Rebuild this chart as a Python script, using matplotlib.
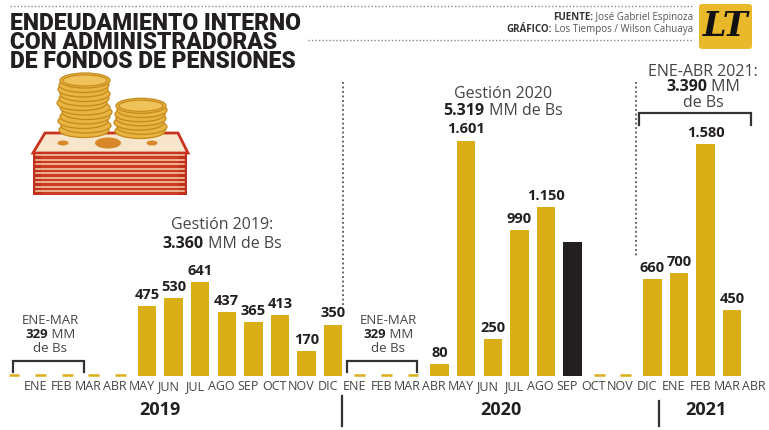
import matplotlib
matplotlib.use("Agg")
import matplotlib.pyplot as plt
import numpy as np
from matplotlib.patches import Ellipse, Polygon, Rectangle, FancyBboxPatch

W, H = 769, 430
GOLD = "#D9AE17"
DARK = "#231F20"
GREY = "#444444"

# one slot per bar as drawn in the graphic (2019 has an extra empty slot)
values_2019 = [0, 0, 0, 0, 0, 475, 530, 641, 437, 365, 413, 170, 350]
values_2020 = [0, 0, 0, 80, 1601, 250, 990, 1150, 910, 0, 0]
values_2021 = [660, 700, 1580, 450]
value_labels_2019 = ["", "", "", "", "", "475", "530", "641", "437", "365", "413", "170", "350"]
value_labels_2020 = ["", "", "", "80", "1.601", "250", "990", "1.150", "", "", ""]
value_labels_2021 = ["660", "700", "1.580", "450"]
months = ["ENE", "FEB", "MAR", "ABR", "MAY", "JUN", "JUL", "AGO", "SEP", "OCT", "NOV", "DIC"]
month_labels = months + months + months[:4]
years = ["2019", "2020", "2021"]
highlight_slot = 21  # SEP 2020, drawn in black

values = values_2019 + values_2020 + values_2021
value_labels = value_labels_2019 + value_labels_2020 + value_labels_2021

plt.rcParams["font.family"] = ["Open Sans", "DejaVu Sans"]

fig = plt.figure(figsize=(W / 100, H / 100), dpi=100)
fig.patch.set_facecolor("white")

# pixel overlay for decoration
axp = fig.add_axes([0, 0, 1, 1], zorder=0)
axp.set_xlim(0, W)
axp.set_ylim(H, 0)
axp.axis("off")

# chart axes, baseline at y=376 px
BASE = 376
SCALE = 0.147  # px per MM Bs
SLOT0, SLOTW = 14, 26.6
ax = fig.add_axes([0, (H - BASE) / H, 1, BASE / H], zorder=1)
ax.set_xlim(-SLOT0 / SLOTW, (W - SLOT0) / SLOTW)
ax.set_ylim(0, BASE / SCALE)
ax.patch.set_alpha(0)
for s in ax.spines.values():
    s.set_visible(False)
ax.set_yticks([])


def v(py):
    return (BASE - py) / SCALE


x = np.arange(len(values))
colors = [DARK if i == highlight_slot else GOLD for i in x]
ax.bar(x, values, width=0.69, color=colors, zorder=2)
zeros = x[np.array(values) == 0]
ax.hlines([6] * len(zeros), zeros - 0.2, zeros + 0.2, color=GOLD, lw=1.8, clip_on=False)
for xi, val, lab in zip(x, values, value_labels):
    if lab:
        ax.annotate(lab, (xi, val), xytext=(0, 3), textcoords="offset points",
                    ha="center", va="bottom", fontsize=10.5, fontweight="bold", color=DARK)

ax.set_xticks(x + 0.8, month_labels)
ax.tick_params(axis="x", length=0, pad=3, labelsize=9, labelcolor=GREY)

tr = ax.get_xaxis_transform()
for xc, yr in zip([5.5, 18.3, 26.0], years):
    ax.text(xc, -0.09, yr, transform=tr, ha="center", va="center",
            fontsize=13, fontweight="bold", color=DARK)

# brackets
for x0, x1, ytop, ybot in [(-0.05, 2.65, 361, 372), (12.5, 15.15, 361, 372), (23.5, 27.7, 113, 125)]:
    ax.plot([x0, x0, x1, x1], [v(ybot), v(ytop), v(ytop), v(ybot)], color="#333333", lw=1.6,
            solid_joinstyle="miter", clip_on=False)

# separators
axp.plot([343, 343], [82, 305], color="#555555", lw=1.3, ls=(0, (1, 1.5)))
axp.plot([636, 636], [82, 258], color="#555555", lw=1.3, ls=(0, (1, 1.5)))
axp.plot([342, 342], [396, 426], color="#333333", lw=1.6)
axp.plot([659, 659], [401, 426], color="#333333", lw=1.6)

renderer = fig.canvas.get_renderer()


def rich(xp, yb, parts, size, align="center"):
    txts, widths = [], []
    for s, wgt, col in parts:
        t = fig.text(0, 0, s, fontsize=size, fontweight=wgt, color=col, ha="left", va="baseline")
        txts.append(t)
        widths.append(t.get_window_extent(renderer).width)
    total = sum(widths)
    xs = xp - total / 2 if align == "center" else xp - total
    for t, wd in zip(txts, widths):
        t.set_position((xs / W, 1 - yb / H))
        xs += wd


# period summaries
rich(50, 324, [("ENE-MAR", "normal", GREY)], 9.5)
rich(50, 338, [("329", "bold", DARK), (" MM", "normal", GREY)], 9.5)
rich(50, 352, [("de Bs", "normal", GREY)], 9.5)
rich(388, 324, [("ENE-MAR", "normal", GREY)], 9.5)
rich(388, 338, [("329", "bold", DARK), (" MM", "normal", GREY)], 9.5)
rich(388, 352, [("de Bs", "normal", GREY)], 9.5)
rich(222, 229, [("Gestión 2019:", "normal", GREY)], 11.5)
rich(222, 248, [("3.360", "bold", DARK), (" MM de Bs", "normal", GREY)], 11.5)
rich(503, 98, [("Gestión 2020", "normal", GREY)], 11.5)
rich(503, 115, [("5.319", "bold", DARK), (" MM de Bs", "normal", GREY)], 11.5)
rich(703, 76, [("ENE-ABR 2021:", "normal", GREY)], 11.5)
rich(703, 91, [("3.390", "bold", DARK), (" MM", "normal", GREY)], 11.5)
rich(703, 107, [("de Bs", "normal", GREY)], 11.5)

# title, one text block with tight leading
fig.text(10 / W, 1 - 12 / H, "ENDEUDAMIENTO INTERNO\nCON ADMINISTRADORAS\nDE FONDOS DE PENSIONES",
         fontsize=16.5, fontweight="black", color=DARK, family=["Roboto", "DejaVu Sans"],
         ha="left", va="top", linespacing=0.78)

# credits
rich(693, 20, [("FUENTE:", "bold", "#333333"), (" José Gabriel Espinoza", "normal", "#555555")], 7, "right")
rich(693, 32, [("GRÁFICO:", "bold", "#333333"), (" Los Tiempos / Wilson Cahuaya", "normal", "#555555")], 7, "right")
axp.plot([10, 693], [6, 6], color="#888888", lw=1, ls=(0, (1, 1.5)))
axp.plot([308, 693], [40, 40], color="#888888", lw=1, ls=(0, (1, 1.5)))

# logo
axp.add_patch(FancyBboxPatch((699, 4), 53, 45, boxstyle="round,pad=0,rounding_size=3",
                             fc="#E9B92B", ec="none"))
axp.text(725.5, 27, "LT", ha="center", va="center", fontsize=24, family="DejaVu Serif",
         fontweight="bold", fontstyle="italic", color="#111111")

# money illustration
axp.add_patch(Rectangle((33, 150), 154, 45, fc="#CF3B22", ec="none"))
for yy in np.arange(155, 195, 4.5):
    axp.plot([36, 184], [yy, yy], color="#F5D3AE", lw=1.1)
axp.add_patch(Rectangle((33, 150), 8, 45, fc="#C0301C", ec="none"))
axp.add_patch(Rectangle((179, 150), 8, 45, fc="#C0301C", ec="none"))
axp.add_patch(Polygon([(45, 133), (178, 133), (188, 153), (33, 153)], closed=True,
                      fc="#F7E6CC", ec="#C8321E", lw=2))
axp.add_patch(Ellipse((108, 143), 26, 11, fc="#D8862A"))
axp.add_patch(Ellipse((63, 143), 11, 5, fc="#D8862A"))
axp.add_patch(Ellipse((152, 143), 11, 5, fc="#D8862A"))

left_shift = [0, 2, -1, 1, 3, 1, -2, 0, 1, -1, 0, 1]
for k, dx in enumerate(left_shift):
    yy = 130 - k * 4.5
    axp.add_patch(Ellipse((84 + dx, yy), 50, 15, fc="#E8B443", ec="#C48A1A", lw=0.9))
axp.add_patch(Ellipse((85, 80.5), 44, 11, fc="#EFC35A", ec="#C48A1A", lw=0.8))
right_shift = [0, 2, -1, 1, 0, 2, 1]
for k, dx in enumerate(right_shift):
    yy = 131 - k * 4.2
    axp.add_patch(Ellipse((140 + dx, yy), 50, 15, fc="#E8B443", ec="#C48A1A", lw=0.9))
axp.add_patch(Ellipse((141, 105.8), 44, 11, fc="#EFC35A", ec="#C48A1A", lw=0.8))

fig.savefig("out.png", dpi=100, facecolor="white")
